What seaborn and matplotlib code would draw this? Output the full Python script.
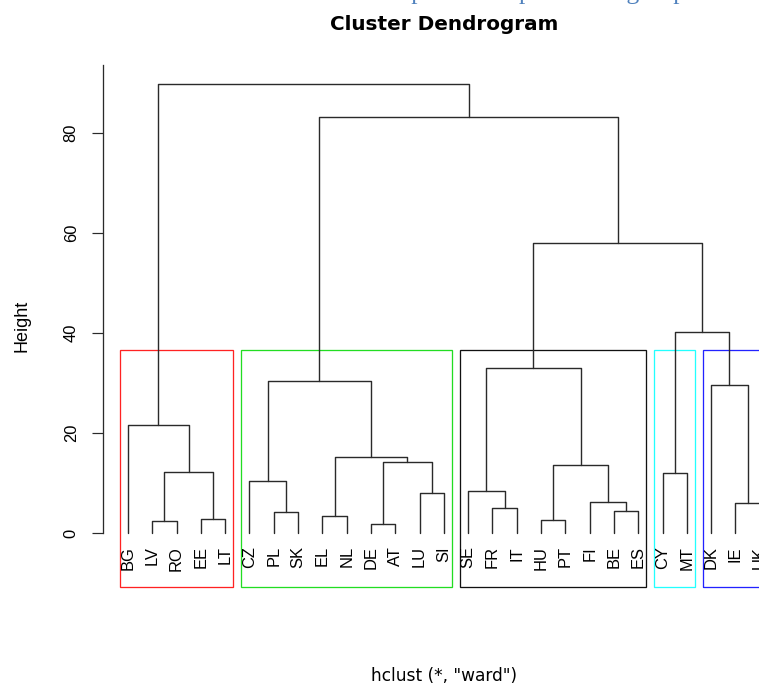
import matplotlib
matplotlib.use("Agg")
import matplotlib.pyplot as plt
from matplotlib.patches import Rectangle
import numpy as np
import pandas as pd
import seaborn as sns

# leaves in plotting order (hclust order)
labels = ["BG", "LV", "RO", "EE", "LT", "CZ", "PL", "SK", "EL", "NL", "DE", "AT",
          "LU", "SI", "SE", "FR", "IT", "HU", "PT", "FI", "BE", "ES", "CY", "MT",
          "DK", "IE", "UK"]

# merge table like R: negative = leaf number, positive = earlier merge row
merge_a = [-11, -2, -4, -18, -9, -7, -21, -16, -26, -20, -13, -15, -6,
           -23, 2, 4, 1, 5, -1, -25, 13, 12, 14, 22, 21, 19]
merge_b = [-12, -3, -5, -19, -10, -8, -22, -17, -27, 7, -14, 8, 6,
           -24, 3, 10, 11, 17, 15, 9, 18, 16, 20, 23, 24, 25]
heights = [1.9, 2.4, 2.8, 2.7, 3.5, 4.3, 4.5, 5.1, 6.1, 6.3, 8.1, 8.5, 10.4,
           12.1, 12.3, 13.7, 14.3, 15.3, 21.6, 29.7, 30.5, 33.0, 40.2, 58.0, 83.2, 89.8]

k_groups = 5
box_colors = ["#ff2222", "#22dd22", "#111111", "#22ffff", "#2222ff"]
y_ticks = [0, 20, 40, 60, 80]

sns.set_style("ticks")
plt.rcParams["font.family"] = ["DejaVu Sans"]
plt.rcParams["text.color"] = "black"

# walk the merges, build the U shaped segments
node_x, node_span = [], []
rows = []


def pos(i):
    if i < 0:
        return -i, 0.0
    return node_x[i - 1], heights[i - 1]


def span(i):
    if i < 0:
        return -i, -i
    return node_span[i - 1]


for n, (a, b, h) in enumerate(zip(merge_a, merge_b, heights)):
    xa, ya = pos(a)
    xb, yb = pos(b)
    for x, y in [(xa, ya), (xa, h), (xb, h), (xb, yb)]:
        rows.append({"x": x, "y": y, "seg": n})
    node_x.append((xa + xb) / 2)
    sa, sb = span(a), span(b)
    node_span.append((min(sa[0], sb[0]), max(sa[1], sb[1])))

segs = pd.DataFrame(rows)

# rect.hclust style cut
hs = sorted(heights, reverse=True)
cut = (hs[k_groups - 2] + hs[k_groups - 1]) / 2
groups = []
for a, b, h in zip(merge_a, merge_b, heights):
    if h > cut:
        for c in (a, b):
            if c < 0 or heights[c - 1] < cut:
                groups.append(span(c))
groups.sort()

fig = plt.figure(figsize=(759 / 72, 689 / 72), dpi=72)
ax = fig.add_axes([102.7 / 759, 1 - 587 / 689, (785 - 102.7) / 759, (587 - 64.5) / 689])
ymin, ymax = -10.8, 93.7

sns.lineplot(data=segs, x="x", y="y", units="seg", estimator=None, sort=False,
             color="#2a2a2a", linewidth=1.4, ax=ax, legend=False)

for (lo, hi), col in zip(groups, box_colors):
    ax.add_patch(Rectangle((lo - 0.34, ymin), hi - lo + 0.67, cut - ymin,
                           fill=False, edgecolor=col, linewidth=1.3, clip_on=False))

for i, lab in enumerate(labels, 1):
    ax.text(i, -2.6, lab, rotation=90, ha="center", va="top", fontsize=16.5,
            family="Liberation Sans", color="black")

ax.set_xlim(-0.04, 28.04)
ax.set_ylim(ymin, ymax)
ax.set_xticks([])
ax.set_yticks(y_ticks)
ax.tick_params(axis="y", length=11, width=1.2, pad=13, labelsize=16.5,
               labelrotation=90, color="#2a2a2a", labelcolor="black", direction="out")
for t in ax.get_yticklabels():
    t.set_va("center")
    t.set_family("Liberation Sans")
for s in ["top", "right", "bottom"]:
    ax.spines[s].set_visible(False)
ax.spines["left"].set_bounds(0, ymax)
ax.spines["left"].set_color("#2a2a2a")
ax.spines["left"].set_linewidth(1.3)

ax.set_ylabel("Height", fontsize=18, family="Liberation Sans", color="black")
ax.yaxis.set_label_coords((30 - 102.7) / (785 - 102.7), 0.5)
ax.set_xlabel('hclust (*, "ward")', fontsize=17, color="black")
ax.xaxis.set_label_coords(0.5, (587 - 681) / (587 - 64.5))
ax.xaxis.label.set_va("baseline")
ax.set_title("Cluster Dendrogram", fontsize=20, fontweight="bold", pad=34.5,
             color="black")

# heading of the page above, mostly cut off
fig.text(373 / 759, 1 + 1.5 / 689, "Shape of European state groups", color="#4f81bd",
         fontsize=25.5, family="Liberation Serif", ha="left", va="baseline")

fig.savefig("out.png", dpi=72)
